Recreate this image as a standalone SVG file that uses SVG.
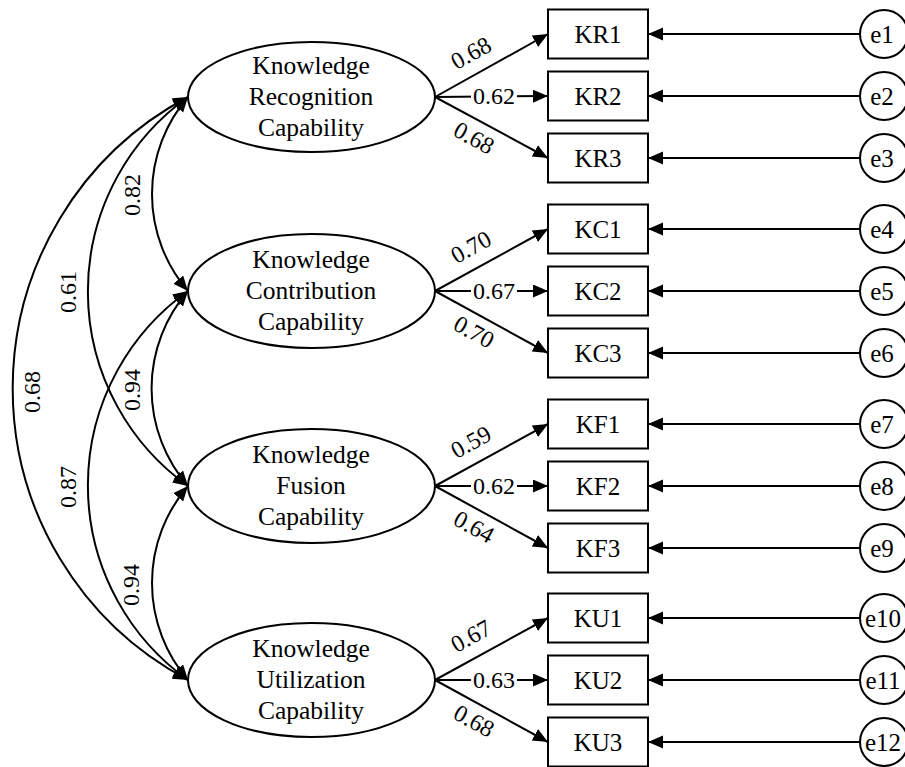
<svg xmlns="http://www.w3.org/2000/svg" width="905" height="767" viewBox="0 0 905 767">
<style>
  .shape { fill: #fff; stroke: #000; stroke-width: 2; }
  .ln { fill: none; stroke: #000; stroke-width: 2; }
  .lat { font-family: "Liberation Serif", "Times New Roman", serif; font-size: 25.5px; fill: #000; text-anchor: middle; }
  .obs { font-family: "Liberation Serif", "Times New Roman", serif; font-size: 25px; fill: #000; text-anchor: middle; }
  .coef { font-family: "Liberation Serif", "Times New Roman", serif; font-size: 24px; fill: #000; text-anchor: middle; }
</style>
<defs>
  <marker id="ah" markerUnits="userSpaceOnUse" markerWidth="16" markerHeight="14" refX="15" refY="6.5" orient="auto-start-reverse">
    <path d="M0,0 L15,6.5 L0,13 z" fill="#000"/>
  </marker>
</defs>
<rect width="905" height="767" fill="#fff"/>

<g id="connectors">
  <!-- covariances -->
  <path class="ln" d="M188,97 A148.7,148.7 0 0,0 188,291" marker-start="url(#ah)" marker-end="url(#ah)"/>
  <path class="ln" d="M188,97 A239,239 0 0,0 188,486" marker-start="url(#ah)" marker-end="url(#ah)"/>
  <path class="ln" d="M188,97 A330,330 0 0,0 188,680" marker-start="url(#ah)" marker-end="url(#ah)"/>
  <path class="ln" d="M188,291 A148.7,148.7 0 0,0 188,486" marker-start="url(#ah)" marker-end="url(#ah)"/>
  <path class="ln" d="M188,291 A239,239 0 0,0 188,680" marker-start="url(#ah)" marker-end="url(#ah)"/>
  <path class="ln" d="M188,486 A148.7,148.7 0 0,0 188,680" marker-start="url(#ah)" marker-end="url(#ah)"/>
  <text class="coef" transform="translate(132,195) rotate(-90)" y="8">0.82</text>
  <text class="coef" transform="translate(68,292) rotate(-90)" y="8">0.61</text>
  <text class="coef" transform="translate(32,392) rotate(-90)" y="8">0.68</text>
  <text class="coef" transform="translate(132,390) rotate(-90)" y="8">0.94</text>
  <text class="coef" transform="translate(68,487) rotate(-90)" y="8">0.87</text>
  <text class="coef" transform="translate(131,585) rotate(-90)" y="8">0.94</text>

  <!-- loadings group 1 -->
  <line class="ln" x1="435" y1="97" x2="548" y2="34" marker-end="url(#ah)"/>
  <line class="ln" x1="435" y1="97" x2="548" y2="96" marker-end="url(#ah)"/>
  <line class="ln" x1="435" y1="97" x2="548" y2="158" marker-end="url(#ah)"/>
  <text class="coef" transform="translate(471,53) rotate(-29)" y="8">0.68</text>
  <rect x="471" y="84" width="46" height="24" fill="#fff"/>
  <text class="coef" x="494" y="104">0.62</text>
  <text class="coef" transform="translate(474,138) rotate(29)" y="8">0.68</text>

  <!-- loadings group 2 -->
  <line class="ln" x1="435" y1="291" x2="548" y2="229" marker-end="url(#ah)"/>
  <line class="ln" x1="435" y1="291" x2="548" y2="291" marker-end="url(#ah)"/>
  <line class="ln" x1="435" y1="291" x2="548" y2="353" marker-end="url(#ah)"/>
  <text class="coef" transform="translate(471,247) rotate(-29)" y="8">0.70</text>
  <rect x="471" y="279" width="46" height="24" fill="#fff"/>
  <text class="coef" x="494" y="299">0.67</text>
  <text class="coef" transform="translate(474,332) rotate(29)" y="8">0.70</text>

  <!-- loadings group 3 -->
  <line class="ln" x1="435" y1="486" x2="548" y2="424" marker-end="url(#ah)"/>
  <line class="ln" x1="435" y1="486" x2="548" y2="486" marker-end="url(#ah)"/>
  <line class="ln" x1="435" y1="486" x2="548" y2="548" marker-end="url(#ah)"/>
  <text class="coef" transform="translate(471,442) rotate(-29)" y="8">0.59</text>
  <rect x="471" y="474" width="46" height="24" fill="#fff"/>
  <text class="coef" x="494" y="494">0.62</text>
  <text class="coef" transform="translate(474,527) rotate(29)" y="8">0.64</text>

  <!-- loadings group 4 -->
  <line class="ln" x1="435" y1="680" x2="548" y2="618" marker-end="url(#ah)"/>
  <line class="ln" x1="435" y1="680" x2="548" y2="680" marker-end="url(#ah)"/>
  <line class="ln" x1="435" y1="680" x2="548" y2="742" marker-end="url(#ah)"/>
  <text class="coef" transform="translate(471,636) rotate(-29)" y="8">0.67</text>
  <rect x="471" y="668" width="46" height="24" fill="#fff"/>
  <text class="coef" x="494" y="688">0.63</text>
  <text class="coef" transform="translate(474,721) rotate(29)" y="8">0.68</text>

  <!-- error arrows -->
  <line class="ln" x1="860" y1="34" x2="648" y2="34" marker-end="url(#ah)"/>
  <line class="ln" x1="860" y1="96" x2="648" y2="96" marker-end="url(#ah)"/>
  <line class="ln" x1="860" y1="158" x2="648" y2="158" marker-end="url(#ah)"/>
  <line class="ln" x1="860" y1="229" x2="648" y2="229" marker-end="url(#ah)"/>
  <line class="ln" x1="860" y1="291" x2="648" y2="291" marker-end="url(#ah)"/>
  <line class="ln" x1="860" y1="353" x2="648" y2="353" marker-end="url(#ah)"/>
  <line class="ln" x1="860" y1="424" x2="648" y2="424" marker-end="url(#ah)"/>
  <line class="ln" x1="860" y1="486" x2="648" y2="486" marker-end="url(#ah)"/>
  <line class="ln" x1="860" y1="548" x2="648" y2="548" marker-end="url(#ah)"/>
  <line class="ln" x1="860" y1="618" x2="648" y2="618" marker-end="url(#ah)"/>
  <line class="ln" x1="860" y1="680" x2="648" y2="680" marker-end="url(#ah)"/>
  <line class="ln" x1="860" y1="742" x2="648" y2="742" marker-end="url(#ah)"/>
</g>

<g id="KRC"><ellipse class="shape" cx="311.5" cy="97" rx="123.5" ry="55"/>
  <text class="lat" x="311" y="74">Knowledge</text><text class="lat" x="311" y="105">Recognition</text><text class="lat" x="311" y="136">Capability</text></g>
<g id="KCC"><ellipse class="shape" cx="311.5" cy="291" rx="123.5" ry="57"/>
  <text class="lat" x="311" y="268">Knowledge</text><text class="lat" x="311" y="299">Contribution</text><text class="lat" x="311" y="330">Capability</text></g>
<g id="KFC"><ellipse class="shape" cx="311.5" cy="486" rx="123.5" ry="57"/>
  <text class="lat" x="311" y="463">Knowledge</text><text class="lat" x="311" y="494">Fusion</text><text class="lat" x="311" y="525">Capability</text></g>
<g id="KUC"><ellipse class="shape" cx="311.5" cy="680" rx="123.5" ry="57"/>
  <text class="lat" x="311" y="657">Knowledge</text><text class="lat" x="311" y="688">Utilization</text><text class="lat" x="311" y="719">Capability</text></g>

<g id="KR1"><rect class="shape" x="548" y="9.5" width="100" height="49"/><text class="obs" x="598" y="43">KR1</text></g>
<g id="KR2"><rect class="shape" x="548" y="71.5" width="100" height="49"/><text class="obs" x="598" y="105">KR2</text></g>
<g id="KR3"><rect class="shape" x="548" y="133.5" width="100" height="49"/><text class="obs" x="598" y="167">KR3</text></g>
<g id="KC1"><rect class="shape" x="548" y="204.5" width="100" height="49"/><text class="obs" x="598" y="238">KC1</text></g>
<g id="KC2"><rect class="shape" x="548" y="266.5" width="100" height="49"/><text class="obs" x="598" y="300">KC2</text></g>
<g id="KC3"><rect class="shape" x="548" y="328.5" width="100" height="49"/><text class="obs" x="598" y="362">KC3</text></g>
<g id="KF1"><rect class="shape" x="548" y="399.5" width="100" height="49"/><text class="obs" x="598" y="433">KF1</text></g>
<g id="KF2"><rect class="shape" x="548" y="461.5" width="100" height="49"/><text class="obs" x="598" y="495">KF2</text></g>
<g id="KF3"><rect class="shape" x="548" y="523.5" width="100" height="49"/><text class="obs" x="598" y="557">KF3</text></g>
<g id="KU1"><rect class="shape" x="548" y="593.5" width="100" height="49"/><text class="obs" x="598" y="627">KU1</text></g>
<g id="KU2"><rect class="shape" x="548" y="655.5" width="100" height="49"/><text class="obs" x="598" y="689">KU2</text></g>
<g id="KU3"><rect class="shape" x="548" y="717.5" width="100" height="49"/><text class="obs" x="598" y="751">KU3</text></g>

<g id="e1"><circle class="shape" cx="884" cy="34" r="24"/><text class="obs" x="882" y="43">e1</text></g>
<g id="e2"><circle class="shape" cx="884" cy="96" r="24"/><text class="obs" x="882" y="105">e2</text></g>
<g id="e3"><circle class="shape" cx="884" cy="158" r="24"/><text class="obs" x="882" y="167">e3</text></g>
<g id="e4"><circle class="shape" cx="884" cy="229" r="24"/><text class="obs" x="882" y="238">e4</text></g>
<g id="e5"><circle class="shape" cx="884" cy="291" r="24"/><text class="obs" x="882" y="300">e5</text></g>
<g id="e6"><circle class="shape" cx="884" cy="353" r="24"/><text class="obs" x="882" y="362">e6</text></g>
<g id="e7"><circle class="shape" cx="884" cy="424" r="24"/><text class="obs" x="882" y="433">e7</text></g>
<g id="e8"><circle class="shape" cx="884" cy="486" r="24"/><text class="obs" x="882" y="495">e8</text></g>
<g id="e9"><circle class="shape" cx="884" cy="548" r="24"/><text class="obs" x="882" y="557">e9</text></g>
<g id="e10"><circle class="shape" cx="884" cy="618" r="24"/><text class="obs" x="883" y="627">e10</text></g>
<g id="e11"><circle class="shape" cx="884" cy="680" r="24"/><text class="obs" x="883" y="689">e11</text></g>
<g id="e12"><circle class="shape" cx="884" cy="742" r="24"/><text class="obs" x="883" y="751">e12</text></g>
</svg>
